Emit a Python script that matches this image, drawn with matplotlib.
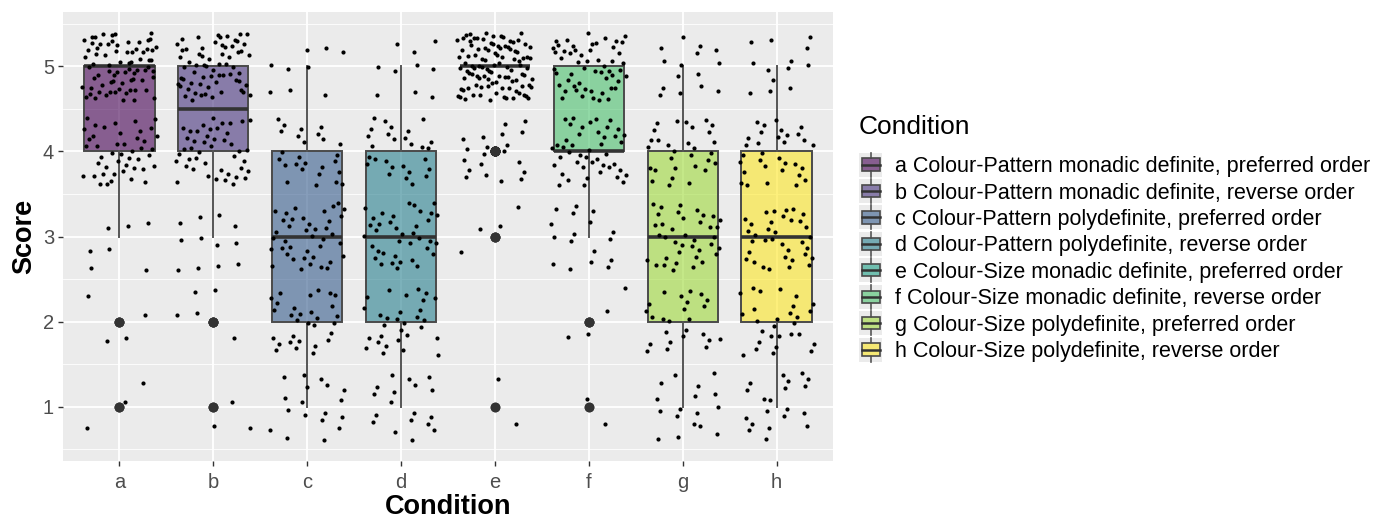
import numpy as np
import matplotlib
matplotlib.use("Agg")
import matplotlib.pyplot as plt
from matplotlib.legend_handler import HandlerBase
from matplotlib.patches import Rectangle
from matplotlib.lines import Line2D

plt.rcParams['font.family'] = ['Liberation Sans', 'DejaVu Sans']

# ---- data (counts of each integer score per condition) ----
conditions = ['a', 'b', 'c', 'd', 'e', 'f', 'g', 'h']
labels = ['a Colour-Pattern monadic definite, preferred order',
          'b Colour-Pattern monadic definite, reverse order',
          'c Colour-Pattern polydefinite, preferred order',
          'd Colour-Pattern polydefinite, reverse order',
          'e Colour-Size monadic definite, preferred order',
          'f Colour-Size monadic definite, reverse order',
          'g Colour-Size polydefinite, preferred order',
          'h Colour-Size polydefinite, reverse order']
scores = [1, 2, 3, 4, 5]
counts_a = [3, 4, 7, 45, 75]
counts_b = [3, 5, 12, 45, 65]
counts_c = [18, 30, 40, 26, 9]
counts_d = [18, 30, 38, 28, 10]
counts_e = [2, 0, 4, 20, 104]
counts_f = [2, 4, 17, 45, 55]
counts_g = [17, 25, 38, 30, 15]
counts_h = [20, 28, 35, 32, 13]
all_counts = [counts_a, counts_b, counts_c, counts_d, counts_e, counts_f, counts_g, counts_h]
colors = ['#440154', '#46337E', '#365C8D', '#277F8E', '#1FA187', '#4AC16D', '#9FDA3A', '#FDE725']

data = [np.repeat(scores, c).astype(float) for c in all_counts]
positions = np.arange(1, len(conditions) + 1)

fig = plt.figure(figsize=(13.91, 5.18), dpi=100)
ax = fig.add_axes([63 / 1391, 57 / 518, (833 - 63) / 1391, (461 - 12) / 518])
ax.set_facecolor('#EBEBEB')
for s in ax.spines.values():
    s.set_visible(False)

ax.set_xlim(0.4, 8.6)
ax.set_ylim(0.36, 5.64)
ax.set_yticks([1, 2, 3, 4, 5])
ax.set_yticks([0.5, 1.5, 2.5, 3.5, 4.5, 5.5], minor=True)
ax.set_xticks(positions)
ax.set_xticklabels(conditions)
ax.grid(which='major', color='white', linewidth=1.3)
ax.grid(which='minor', axis='y', color='white', linewidth=0.6)
ax.set_axisbelow(True)
ax.tick_params(which='major', length=3.5, width=1, color='#333333', labelcolor='#4D4D4D',
               labelsize=14.5, pad=3)
ax.tick_params(axis='x', which='major', pad=5)
ax.tick_params(which='minor', length=0)

edge = '#4a4a4a'
bp = ax.boxplot(data, positions=positions, widths=0.75, patch_artist=True, whis=1.5,
                showcaps=False, manage_ticks=False,
                boxprops=dict(edgecolor=edge, linewidth=1.4),
                whiskerprops=dict(color='#555555', linewidth=1.4),
                medianprops=dict(color='#333333', linewidth=2.6),
                flierprops=dict(marker='o', markerfacecolor='#333333', markeredgecolor='#333333',
                                markersize=6.0, linestyle='none'),
                zorder=2)
for patch, c in zip(bp['boxes'], colors):
    patch.set_facecolor(matplotlib.colors.to_rgba(c, 0.6))

# deterministic jitter layout (R2 low-discrepancy sequence), width/height 0.4
g1, g2 = 0.7548776662466927, 0.5698402909980532
for i, (pos, d) in enumerate(zip(positions, data)):
    k = np.arange(len(d)) + 1 + 37 * i
    jx = (np.mod(0.31 + k * g1, 1.0) * 2 - 1) * 0.4
    jy = (np.mod(0.47 + k * g2, 1.0) * 2 - 1) * 0.4
    jy = jy[np.argsort(np.mod(k * 0.6180339887, 1.0))]
    ax.scatter(pos + jx, d + jy, s=9, color='black', zorder=3, linewidths=0)

ax.set_xlabel('Condition', fontsize=19.5, fontweight='bold', labelpad=1.5)
ax.set_ylabel('Score', fontsize=19.5, fontweight='bold', labelpad=4)


class BoxKey(HandlerBase):
    def create_artists(self, legend, orig_handle, xdescent, ydescent, width, height, fontsize, trans):
        x0, y0 = -xdescent, -ydescent
        pad = 2.5
        bg = Rectangle((x0, y0 - pad), width, height + 2 * pad, facecolor='#EBEBEB', edgecolor='none',
                       transform=trans)
        bw, bh = width * 0.78, height * 0.72
        bx = x0 + (width - bw) / 2
        by = y0 + (height - bh) / 2
        box = Rectangle((bx, by), bw, bh, facecolor=orig_handle.get_facecolor(),
                        edgecolor=edge, linewidth=1.2, transform=trans)
        cx = x0 + width / 2
        cy = y0 + height / 2
        w1 = Line2D([cx, cx], [y0 - pad, by], color='#555555', linewidth=1.2, transform=trans)
        w2 = Line2D([cx, cx], [by + bh, y0 + height + pad], color='#555555', linewidth=1.2, transform=trans)
        med = Line2D([bx, bx + bw], [cy, cy], color='#333333', linewidth=1.8, transform=trans)
        return [bg, w1, w2, box, med]


handles = [Rectangle((0, 0), 1, 1, facecolor=matplotlib.colors.to_rgba(c, 0.6)) for c in colors]
leg = fig.legend(handles, labels, handler_map={Rectangle: BoxKey()},
                 loc='upper left', bbox_to_anchor=(859 / 1391, 1 - 115 / 518),
                 frameon=False, fontsize=15.5, title='Condition', title_fontsize=19,
                 handlelength=1.07, handleheight=0.84, handletextpad=0.6,
                 labelspacing=0.252, borderpad=0, borderaxespad=0, alignment='left')
leg._legend_box.sep = 12.3

fig.savefig('out.png', dpi=100)
